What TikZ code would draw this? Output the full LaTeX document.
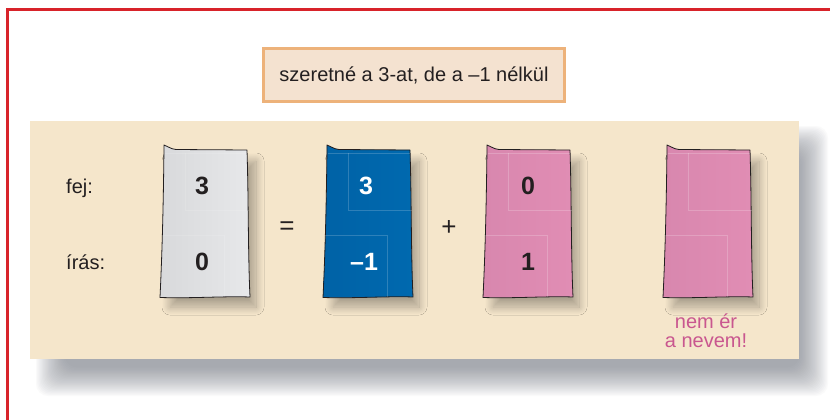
\documentclass[tikz,border=0pt]{standalone}
\usepackage{fontspec}
\setmainfont{Liberation Sans}
\usetikzlibrary{shadows.blur}
\definecolor{frame}{HTML}{D8232A}
\definecolor{titlefill}{HTML}{F4E2D0}
\definecolor{titleline}{HTML}{EDB27A}
\definecolor{panel}{HTML}{F5E6CB}
\definecolor{cardgrayA}{HTML}{D8D9DB}
\definecolor{cardgrayB}{HTML}{E7E8EA}
\definecolor{cardblueA}{HTML}{0062A6}
\definecolor{cardblueB}{HTML}{0069AF}
\definecolor{cardpinkA}{HTML}{D887AE}
\definecolor{cardpinkB}{HTML}{E18DB4}
\definecolor{textdark}{HTML}{231F20}
\definecolor{pinktext}{HTML}{C9578F}
\definecolor{panelshadow}{HTML}{6E737E}
\tikzset{
  cardshape/.style={draw=textdark, line width=0.8pt, line join=round},
  seam/.style={draw=white, line width=0.6pt},
  cardsoft/.style={blur shadow={shadow xshift=0pt, shadow yshift=0pt, shadow blur radius=8pt,
     shadow blur steps=20, shadow opacity=30}},
  panellayer/.style={fill=panelshadow, opacity=0.03, rounded corners=12pt},
  num/.style={font=\fontsize{25}{28}\selectfont\bfseries, inner sep=0pt},
  lbl/.style={font=\fontsize{20}{22}\selectfont, text=textdark, inner sep=0pt, anchor=base west},
  op/.style={font=\fontsize{26}{28}\selectfont, text=textdark, inner sep=0pt}
}
\newcommand{\drawcard}[4]{%
  \begin{scope}[shift={(#1,145)}]
    \path[cardsoft] (6,16) rectangle (92,162);
    \path[cardshape, left color=#2, right color=#3]
      (0,0) .. controls (4,1) and (6,4) .. (12,4.5) -- (83,5)
      .. controls (84.5,50) and (84,110) .. (86,152)
      .. controls (60,151) and (30,153.5) .. (-4,152.5)
      .. controls (-1.5,100) and (-0.5,50) .. (0,0) -- cycle;
    \draw[seam, opacity=#4] (1,8) -- (83,8);
    \draw[seam, opacity=#4] (21,8) -- (21,65) -- (85,65);
    \draw[seam, opacity=#4] (-3,90) -- (60,90) -- (60,152);
  \end{scope}}
\begin{document}
\begin{tikzpicture}[x=1pt, y=-1pt]
\useasboundingbox (0,0) rectangle (830,420);
\fill[white] (0,0) rectangle (830,420);
% red frame
\draw[frame, line width=3pt] (7,422) -- (7,10) -- (832,10);
% title
\node[draw=titleline, fill=titlefill, line width=3pt, minimum width=301pt, minimum height=53pt,
  font=\fontsize{20}{24}\selectfont, text=textdark] (title) at (414,75) {szeretné a 3-at, de a –1 nélkül};
% panel shadow and panel
\foreach \i in {0,...,24} {
  \fill[panellayer] (36+1.2*\i,126+1.2*\i) rectangle (828-1.2*\i,396-1.2*\i);
}
\fill[panel] (30,121) rectangle (799,359);
% cards
\drawcard{164}{cardgrayA}{cardgrayB}{0.12}
\drawcard{327}{cardblueA}{cardblueB}{0.18}
\drawcard{487}{cardpinkA}{cardpinkB}{0.2}
\drawcard{667}{cardpinkA}{cardpinkB}{0.2}
% labels
\node[lbl] (fej) at (66,193) {fej:};
\node[lbl] (iras) at (66,269) {írás:};
% numbers
\node[num, text=textdark] (g3) at (202,186) {3};
\node[num, text=textdark] (g0) at (202,262) {0};
\node[num, text=white] (b3) at (366,186) {3};
\node[num, text=white] (bm1) at (364,262) {–1};
\node[num, text=textdark] (p0) at (528,186) {0};
\node[num, text=textdark] (p1) at (528,262) {1};
\node[op] (eq) at (287,228) {=};
\node[op] (plus) at (449,228) {+};
% note
\node[font=\fontsize{20}{19}\selectfont, text=pinktext, align=center, inner sep=0pt] (nemer)
  at (706,331) {nem ér\\a nevem!};
\end{tikzpicture}
\end{document}
